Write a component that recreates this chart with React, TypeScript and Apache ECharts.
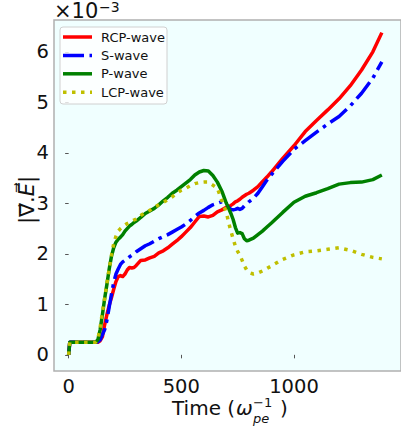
import React, { useEffect, useRef } from "react";
import * as echarts from "echarts";

// time axis (units of 1/omega_pe)
const time = [0, 5, 60, 120, 130, 140, 150, 160, 170, 180, 190, 200, 210, 220, 230, 240, 250, 260, 270, 280, 290, 300, 320, 340, 360, 380, 400, 420, 440, 460, 480, 500, 520, 540, 560, 580, 600, 620, 640, 660, 680, 700, 710, 720, 730, 740, 750, 760, 770, 780, 790, 800, 820, 840, 860, 880, 900, 950, 1000, 1050, 1100, 1150, 1200, 1250, 1300, 1350, 1390];

// values in units of 1e-3
const rcpWave = [0, 0.25, 0.25, 0.25, 0.25, 0.28, 0.36, 0.6, 0.8, 0.98, 1.13, 1.3, 1.45, 1.55, 1.57, 1.55, 1.6, 1.68, 1.73, 1.72, 1.73, 1.77, 1.87, 1.88, 1.92, 1.95, 2.02, 2.06, 2.12, 2.19, 2.26, 2.34, 2.43, 2.52, 2.63, 2.74, 2.75, 2.73, 2.76, 2.83, 2.87, 2.92, 2.93, 2.96, 2.99, 3.03, 3.05, 3.08, 3.12, 3.15, 3.18, 3.2, 3.26, 3.33, 3.43, 3.52, 3.62, 3.89, 4.14, 4.42, 4.64, 4.85, 5.07, 5.33, 5.64, 6.0, 6.38];
const sWave = [0, 0.25, 0.25, 0.25, 0.26, 0.3, 0.4, 0.5, 0.69, 0.95, 1.2, 1.43, 1.6, 1.7, 1.79, 1.84, 1.87, 1.9, 1.94, 1.97, 2.0, 2.04, 2.1, 2.16, 2.2, 2.25, 2.3, 2.34, 2.38, 2.43, 2.48, 2.53, 2.59, 2.66, 2.74, 2.81, 2.86, 2.92, 2.97, 3.0, 3.03, 2.98, 2.92, 2.88, 2.87, 2.88, 2.9, 2.88, 2.9, 2.95, 2.99, 3.03, 3.1, 3.2, 3.33, 3.46, 3.57, 3.83, 4.07, 4.24, 4.41, 4.57, 4.72, 4.93, 5.18, 5.48, 5.8];
const pWave = [0, 0.25, 0.25, 0.25, 0.3, 0.5, 0.8, 1.12, 1.4, 1.7, 1.95, 2.12, 2.23, 2.29, 2.33, 2.38, 2.45, 2.5, 2.55, 2.58, 2.62, 2.65, 2.72, 2.8, 2.85, 2.9, 2.97, 3.05, 3.12, 3.2, 3.26, 3.33, 3.4, 3.47, 3.56, 3.62, 3.65, 3.64, 3.55, 3.42, 3.24, 3.0, 2.9, 2.8, 2.68, 2.52, 2.41, 2.42, 2.4, 2.3, 2.26, 2.27, 2.31, 2.38, 2.45, 2.53, 2.61, 2.82, 3.02, 3.14, 3.21, 3.29, 3.38, 3.41, 3.42, 3.47, 3.56];
const lcpWave = [0, 0.25, 0.25, 0.25, 0.32, 0.55, 0.85, 1.12, 1.42, 1.7, 1.97, 2.2, 2.35, 2.45, 2.5, 2.54, 2.57, 2.6, 2.62, 2.65, 2.67, 2.69, 2.76, 2.82, 2.86, 2.92, 2.97, 3.02, 3.07, 3.13, 3.2, 3.26, 3.3, 3.35, 3.39, 3.41, 3.42, 3.42, 3.36, 3.3, 3.05, 2.82, 2.62, 2.45, 2.3, 2.15, 2.05, 1.97, 1.87, 1.76, 1.68, 1.63, 1.6, 1.62, 1.66, 1.71, 1.76, 1.89, 1.98, 2.04, 2.06, 2.09, 2.12, 2.07, 1.99, 1.93, 1.9];

const seriesNames = ["RCP-wave", "S-wave", "P-wave", "LCP-wave"];
const xTicks = [0, 500, 1000];
const yTicks = [0, 1, 2, 3, 4, 5, 6];

const FONT = "DejaVu Sans";
const INK = "#111";
const colors = ["#ff0000", "#0000ff", "#008000", "#bfbf00"];
const dashes: any[] = ["solid", [21, 5.5, 3.5, 5.5], "solid", [3.5, 5.5]];

export default function App() {
  const ref = useRef<HTMLDivElement>(null);
  useEffect(() => {
    document.body.style.margin = "0";
    const chart = echarts.init(ref.current!, null, { renderer: "svg" });
    const values = [rcpWave, sWave, pWave, lcpWave];
    const series = values.map((vals, i) => ({
      name: seriesNames[i],
      type: "line",
      showSymbol: false,
      symbol: "none",
      data: time.map((t, k) => [t, vals[k]]),
      lineStyle: { color: colors[i], width: 3.5, type: dashes[i], cap: "butt", join: "round" },
      itemStyle: { color: colors[i] },
      z: 2 + i,
    }));

    const legendX = 60, legendY = 27;
    const legendItems: any[] = [
      {
        type: "rect",
        shape: { x: legendX, y: legendY, width: 107, height: 77, r: 3 },
        style: { fill: "rgba(255,255,255,0.8)", stroke: "#d0d0d0", lineWidth: 1 },
        z: 10,
      },
    ];
    seriesNames.forEach((n, i) => {
      const yy = 37 + i * 18.4;
      legendItems.push({
        type: "line",
        shape: { x1: 63, y1: yy, x2: 92, y2: yy },
        style: { stroke: colors[i], lineWidth: 3.5, lineDash: dashes[i] === "solid" ? null : dashes[i], lineCap: "butt" },
        z: 11,
      });
      legendItems.push({
        type: "text",
        x: 101,
        y: yy,
        style: { text: n, fontSize: 13, fontFamily: FONT, fill: INK, verticalAlign: "middle", align: "left" },
        z: 11,
      });
    });

    const fmt = (v: number) => String(v);

    chart.setOption({
      animation: false,
      backgroundColor: "#ffffff",
      grid: {
        left: 54,
        top: 20,
        width: 354,
        height: 351,
        show: true,
        backgroundColor: "#f0ffff",
        borderColor: "#b0b0b0",
        borderWidth: 1.5,
      },
      xAxis: {
        type: "value",
        min: -65,
        max: 1475,
        axisLine: { show: false },
        splitLine: { show: false },
        axisTick: { show: true, customValues: xTicks, length: 3.5, lineStyle: { color: "#555" } },
        axisLabel: { customValues: xTicks, formatter: fmt, fontSize: 19.5, fontFamily: FONT, color: INK, margin: 5 },
      },
      yAxis: {
        type: "value",
        min: -0.32,
        max: 6.63,
        axisLine: { show: false },
        splitLine: { show: false },
        axisTick: { show: true, customValues: yTicks, length: 3.5, lineStyle: { color: "#555" } },
        axisLabel: { customValues: yTicks, formatter: fmt, fontSize: 19.5, fontFamily: FONT, color: INK, margin: 5 },
      },
      series,
      graphic: [
        ...legendItems,
        { type: "text", x: 54, y: 11, style: { text: "×10", fontSize: 21, fontFamily: FONT, fill: INK, verticalAlign: "middle" } },
        { type: "text", x: 99, y: 6.5, style: { text: "−3", fontSize: 14, fontFamily: FONT, fill: INK, verticalAlign: "middle" } },
        { type: "text", x: 172, y: 408, style: { text: "Time (", fontSize: 20, fontFamily: FONT, fill: INK, verticalAlign: "middle" } },
        { type: "text", x: 236, y: 408, style: { text: "ω", fontSize: 20, fontStyle: "italic", fontFamily: FONT, fill: INK, verticalAlign: "middle" } },
        { type: "text", x: 253, y: 402, style: { text: "−1", fontSize: 13, fontFamily: FONT, fill: INK, verticalAlign: "middle" } },
        { type: "text", x: 253, y: 418, style: { text: "pe", fontSize: 13, fontStyle: "italic", fontFamily: FONT, fill: INK, verticalAlign: "middle" } },
        { type: "text", x: 280, y: 408, style: { text: ")", fontSize: 20, fontFamily: FONT, fill: INK, verticalAlign: "middle" } },
        {
          type: "text",
          x: 27,
          y: 200,
          rotation: Math.PI / 2,
          style: {
            text: "|∇⃗.{i|E⃗}|",
            fontSize: 21,
            fontFamily: FONT,
            fill: INK,
            align: "center",
            verticalAlign: "middle",
            rich: { i: { fontSize: 21, fontFamily: FONT, fontStyle: "italic", fill: INK } },
          },
        },
      ],
    });
    return () => chart.dispose();
  }, []);
  return <div ref={ref} style={{ width: 401, height: 428 }} />;
}
